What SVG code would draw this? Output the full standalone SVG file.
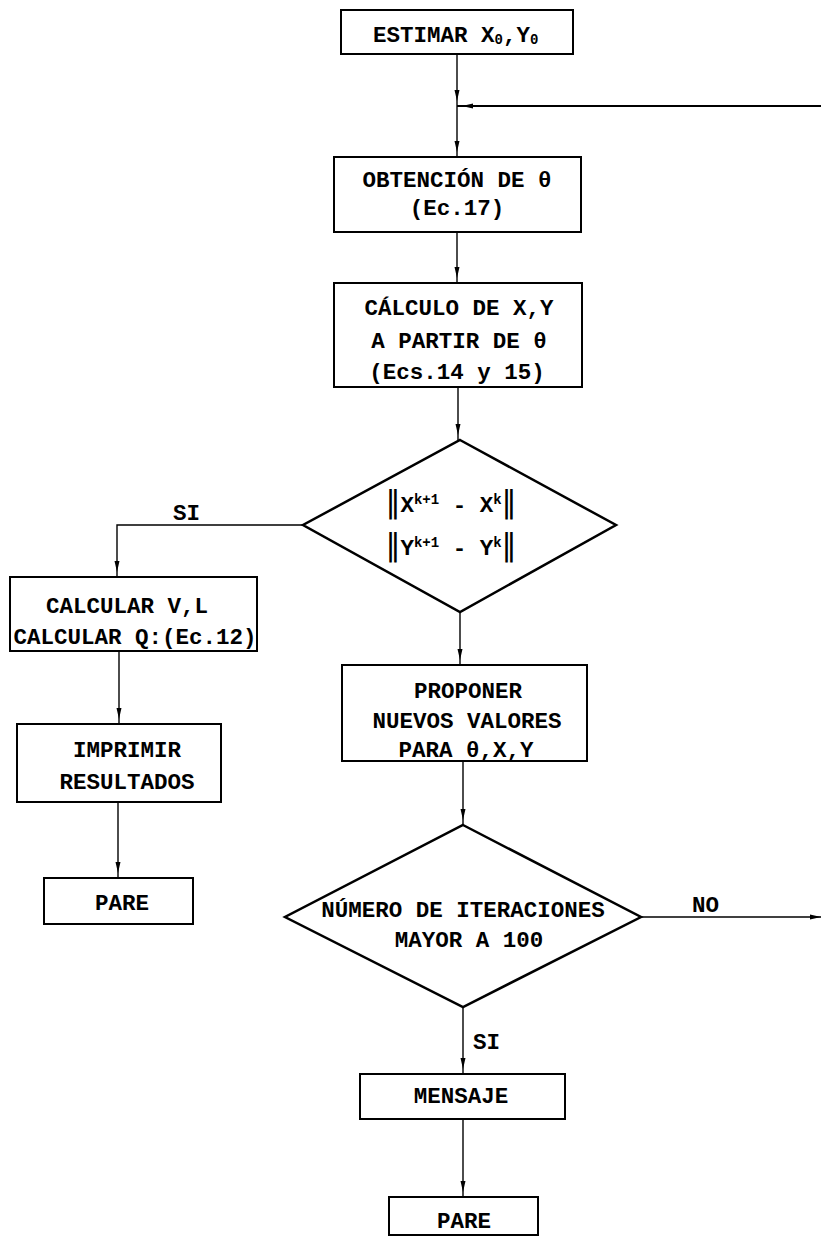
<svg xmlns="http://www.w3.org/2000/svg" width="821" height="1238" viewBox="0 0 821 1238">
<style>
.box{fill:#fff;stroke:#000;stroke-width:2}
.dia{fill:#fff;stroke:#000;stroke-width:2.5}
.t{font-family:"Liberation Mono","Courier New",monospace;font-weight:bold;font-size:22.5px;fill:#000}
.c{fill:none;stroke:#000;stroke-width:1.4}
.thick{stroke-width:2.2}
.bar{font-family:"DejaVu Sans",sans-serif;font-weight:normal;font-size:30px}
.sup{font-size:14px}
</style>
<defs>
<marker id="a" markerUnits="userSpaceOnUse" markerWidth="20" markerHeight="8" refX="16" refY="0" viewBox="0 -4 20 8" orient="auto" overflow="visible">
<path d="M0,-2.5 L11,0 L0,2.5 z" fill="#000"/>
</marker>
<marker id="e" markerUnits="userSpaceOnUse" markerWidth="12" markerHeight="8" refX="11" refY="0" viewBox="0 -4 12 8" orient="auto" overflow="visible">
<path d="M0,-2.5 L11,0 L0,2.5 z" fill="#000"/>
</marker>
</defs>
<rect width="821" height="1238" fill="#fff"/>
<g id="connectors">
<line class="c" x1="457" y1="54" x2="457" y2="106" marker-end="url(#a)"/>
<line class="c" x1="457" y1="106" x2="457" y2="157" marker-end="url(#a)"/>
<line class="c thick" x1="821" y1="106" x2="457" y2="106" marker-end="url(#a)"/>
<line class="c" x1="457" y1="232" x2="457" y2="283" marker-end="url(#a)"/>
<line class="c" x1="458" y1="387" x2="458" y2="440" marker-end="url(#a)"/>
<polyline class="c" points="303,525 117,525 117,577" marker-end="url(#a)"/>
<line class="c" x1="119" y1="651" x2="119" y2="724" marker-end="url(#a)"/>
<line class="c" x1="118" y1="802" x2="118" y2="878" marker-end="url(#a)"/>
<line class="c" x1="460" y1="612" x2="460" y2="665" marker-end="url(#a)"/>
<line class="c" x1="463" y1="761" x2="463" y2="825" marker-end="url(#a)"/>
<line class="c" x1="641" y1="917" x2="821" y2="917" marker-end="url(#e)"/>
<line class="c" x1="463" y1="1007" x2="463" y2="1074" marker-end="url(#a)"/>
<line class="c" x1="463" y1="1119" x2="463" y2="1197" marker-end="url(#a)"/>
<text class="t" x="173" y="520">SI</text>
<text class="t" x="692" y="912">NO</text>
<text class="t" x="473" y="1049">SI</text>
</g>
<g id="estimar">
<rect class="box" x="341" y="10" width="232" height="44"/>
<text class="t" x="373" y="42">ESTIMAR X<tspan class="sup" dy="2">0</tspan><tspan dy="-2">,Y</tspan><tspan class="sup" dy="2">0</tspan></text>
</g>
<g id="obtencion">
<rect class="box" x="334" y="157" width="247" height="75"/>
<text class="t" x="457" y="187" text-anchor="middle">OBTENCIÓN DE θ</text>
<text class="t" x="457" y="215" text-anchor="middle">(Ec.17)</text>
</g>
<g id="calculo">
<rect class="box" x="334" y="283" width="248" height="104"/>
<text class="t" x="459" y="315" text-anchor="middle">CÁLCULO DE X,Y</text>
<text class="t" x="459" y="348" text-anchor="middle">A PARTIR DE θ</text>
<text class="t" x="457" y="379" text-anchor="middle">(Ecs.14 y 15)</text>
</g>
<g id="convergencia">
<polygon class="dia" points="460,440 616,525 460,612 303,525"/>
<text class="t" x="451" y="512" text-anchor="middle"><tspan class="bar">‖</tspan>X<tspan class="sup" dy="-8">k+1</tspan><tspan dy="8"> - X</tspan><tspan class="sup" dy="-8">k</tspan><tspan class="bar" dy="8">‖</tspan></text>
<text class="t" x="451" y="555" text-anchor="middle"><tspan class="bar">‖</tspan>Y<tspan class="sup" dy="-8">k+1</tspan><tspan dy="8"> - Y</tspan><tspan class="sup" dy="-8">k</tspan><tspan class="bar" dy="8">‖</tspan></text>
</g>
<g id="calcular">
<rect class="box" x="10" y="577" width="247" height="74"/>
<text class="t" x="127" y="613" text-anchor="middle">CALCULAR V,L</text>
<text class="t" x="135" y="644" text-anchor="middle">CALCULAR Q:(Ec.12)</text>
</g>
<g id="imprimir">
<rect class="box" x="17" y="724" width="204" height="78"/>
<text class="t" x="127" y="757" text-anchor="middle">IMPRIMIR</text>
<text class="t" x="127" y="789" text-anchor="middle">RESULTADOS</text>
</g>
<g id="pare1">
<rect class="box" x="44" y="878" width="149" height="46"/>
<text class="t" x="122" y="910" text-anchor="middle">PARE</text>
</g>
<g id="proponer">
<rect class="box" x="342" y="665" width="245" height="96"/>
<text class="t" x="468" y="698" text-anchor="middle">PROPONER</text>
<text class="t" x="467" y="728" text-anchor="middle">NUEVOS VALORES</text>
<text class="t" x="466" y="757" text-anchor="middle">PARA θ,X,Y</text>
</g>
<g id="iteraciones">
<polygon class="dia" points="463,825 641,917 463,1007 285,917"/>
<text class="t" x="463" y="917" text-anchor="middle">NÚMERO DE ITERACIONES</text>
<text class="t" x="469" y="947" text-anchor="middle">MAYOR A 100</text>
</g>
<g id="mensaje">
<rect class="box" x="360" y="1074" width="205" height="45"/>
<text class="t" x="461" y="1103" text-anchor="middle">MENSAJE</text>
</g>
<g id="pare2">
<rect class="box" x="389" y="1197" width="149" height="38"/>
<text class="t" x="464" y="1228" text-anchor="middle">PARE</text>
</g>
</svg>
